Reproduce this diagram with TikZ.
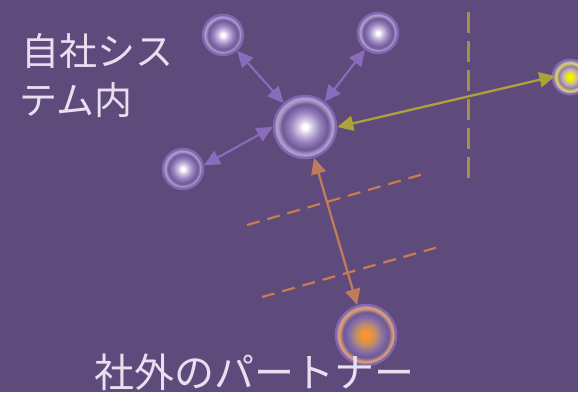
\documentclass[tikz,border=0pt]{standalone}
\usepackage{fontspec}
\newfontfamily\jpfont{Noto Sans CJK JP}
\usetikzlibrary{arrows.meta}
\definecolor{bg}{HTML}{5E4A7B}
\definecolor{txt}{HTML}{E8DFF0}
\definecolor{parrow}{HTML}{8A6CBC}
\definecolor{yarrow}{HTML}{ADA23A}
\definecolor{ydash}{HTML}{A39244}
\definecolor{oarrow}{HTML}{BE7C5C}
\definecolor{odash}{HTML}{C97B52}
\definecolor{sphA}{HTML}{D2C6E2}
\definecolor{sphM}{HTML}{9A84BE}
\definecolor{sphB}{HTML}{6E5698}
\definecolor{sphC}{HTML}{AC9CC8}
\definecolor{sphRim}{HTML}{8466B4}
\definecolor{ylw}{HTML}{F4F000}
\definecolor{ylwA}{HTML}{C0B0B0}
\definecolor{ylwB}{HTML}{8E7AAE}
\definecolor{ylwRing}{HTML}{D6CE60}
\definecolor{org}{HTML}{F7962E}
\definecolor{orgA}{HTML}{C08A70}
\definecolor{orgB}{HTML}{8570A5}
\definecolor{orgC}{HTML}{6E5698}
\definecolor{orgRing}{HTML}{D49A78}
\pgfdeclareradialshading{sphW}{\pgfpointorigin}{color(0bp)=(white); color(2bp)=(white); color(6bp)=(sphA); color(12bp)=(sphM); color(18.5bp)=(sphB); color(22bp)=(sphC); color(25bp)=(sphC); color(50bp)=(sphC)}
\pgfdeclareradialshading{sphY}{\pgfpointorigin}{color(0bp)=(ylw); color(4bp)=(ylw); color(11bp)=(ylwA); color(16bp)=(ylwB); color(19.5bp)=(ylwRing); color(21bp)=(ylwRing); color(22.5bp)=(sphC); color(25bp)=(sphRim); color(50bp)=(sphRim)}
\pgfdeclareradialshading{sphO}{\pgfpointorigin}{color(0bp)=(org); color(3bp)=(org); color(9bp)=(orgA); color(14bp)=(orgB); color(19bp)=(orgC); color(22bp)=(orgRing); color(24bp)=(orgRing); color(25bp)=(sphC); color(50bp)=(sphC)}
\tikzset{
  ball/.style={circle, inner sep=0pt, shading=sphW, draw=sphRim, line width=2.5pt},
  ybal/.style={circle, inner sep=0pt, shading=sphY, draw=sphRim, line width=2pt},
  obal/.style={circle, inner sep=0pt, shading=sphO, draw=sphRim, line width=2.5pt},
  twoway/.style={arrows={Triangle[length=16pt,width=15pt]-Triangle[length=16pt,width=15pt]}},
  parr/.style={draw=parrow, fill=parrow, line width=2.1pt, twoway},
  yarr/.style={draw=yarrow, fill=yarrow, line width=2.3pt, twoway},
  oarr/.style={draw=oarrow, fill=oarrow, line width=2.3pt, twoway},
  odsh/.style={draw=odash, line width=2.2pt, dash pattern=on 13pt off 8pt},
  ydsh/.style={draw=ydash, line width=3pt, dash pattern=on 21pt off 8pt},
  lbl/.style={text=txt, inner sep=0pt, font=\jpfont\fontsize{38}{46}\selectfont, anchor=base west}
}
\begin{document}
\begin{tikzpicture}[x=1pt,y=-1pt]
\path[fill=bg] (0,0) rectangle (578,392);
\useasboundingbox (0,0) rectangle (578,392);
% dashed boundaries
\coordinate (v1) at (468,12);
\coordinate (v2) at (468,180);
\draw[ydsh] (v1) -- (v2);
\coordinate (d1a) at (247,225);
\coordinate (d1b) at (427,173);
\draw[odsh] (d1a) -- (d1b);
\coordinate (d2a) at (262,297);
\coordinate (d2b) at (442,246);
\draw[odsh] (d2a) -- (d2b);
% spheres
\node[ball, minimum size=62pt] (c) at (305,127) {};
\node[ball, minimum size=40pt] (tl) at (223,35) {};
\node[ball, minimum size=40pt] (tr) at (378,33) {};
\node[ball, minimum size=40pt] (bl) at (183,169) {};
\node[ybal, minimum size=35pt] (y) at (570,77) {};
\node[obal, minimum size=60pt] (o) at (366,335) {};
% connectors
\draw[parr] (c) -- (tl);
\draw[parr] (c) -- (tr);
\draw[parr] (c.west) -- (bl.10);
\draw[yarr, shorten >=-4pt] (c.east) -- (y.west);
\draw[oarr] (c) -- (o);
% labels
\node[lbl] (t1) at (21,65) {自社シス};
\node[lbl] (t2) at (19,114) {テム内};
\node[lbl, font=\jpfont\fontsize{40}{46}\selectfont] (t3) at (94,387) {社外のパートナー};
\end{tikzpicture}
\end{document}
